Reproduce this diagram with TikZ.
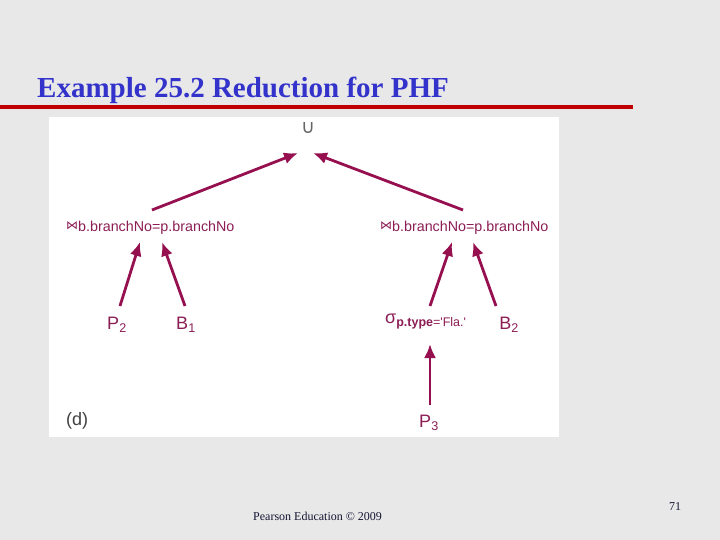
\documentclass[tikz,border=0pt]{standalone}
\usepackage{fontspec}
\setmainfont{Liberation Serif}
\newfontfamily\lsans{Liberation Sans}
\newfontfamily\dvs{DejaVu Sans}
\usetikzlibrary{arrows.meta}
\definecolor{bg}{RGB}{232,232,232}
\definecolor{ttl}{RGB}{51,51,204}
\definecolor{rul}{RGB}{192,0,0}
\definecolor{arr}{RGB}{150,16,80}
\definecolor{lbl}{RGB}{140,30,85}
\definecolor{ftr}{RGB}{20,20,50}
\tikzset{
  conn/.style={draw=arr, line width=2.8pt, -{Latex[length=14pt,width=12pt]}},
  lab/.style={font=\lsans\fontsize{14.3}{16}\selectfont, text=lbl, inner sep=1pt},
  big/.style={font=\lsans\fontsize{18}{20}\selectfont, text=lbl, inner sep=1pt},
}
\begin{document}
\begin{tikzpicture}[x=1pt,y=-1pt]
\fill[bg] (0,0) rectangle (720,540);
\useasboundingbox (0,0) rectangle (720,540);
% title
\node[anchor=base west, inner sep=0, text=ttl, font=\bfseries\fontsize{29}{32}\selectfont] (title) at (37,98) {Example 25.2 Reduction for PHF};
\fill[rul] (0,105.5) rectangle (633,109);
% panel
\fill[white] (49,117) rectangle (559,437);
% nodes
\node[lab, font=\dvs\fontsize{19}{20}\selectfont, text=black!60] (u) at (308,128) {∪};
\coordinate (uL) at (298,153);
\coordinate (uR) at (313,153);
\node[lab, anchor=west] (j1) at (65,228) {{\dvs\fontsize{12}{12}\selectfont\raisebox{2.5pt}{⋈}}b.branchNo=p.branchNo};
\node[lab, anchor=west] (j2) at (379,228) {{\dvs\fontsize{12}{12}\selectfont\raisebox{2.5pt}{⋈}}b.branchNo=p.branchNo};
\coordinate (j1t) at (152,210);
\coordinate (j2t) at (463,210);
\coordinate (j1L) at (140,242);
\coordinate (j1R) at (162,242);
\coordinate (j2L) at (452,242);
\coordinate (j2R) at (473,242);
\node[big] (p2) at (117,325) {P\textsubscript{2}};
\node[big] (b1) at (186,325) {B\textsubscript{1}};
\node[big, anchor=west] (sig) at (384,322) {σ\raisebox{-3pt}{\lsans\bfseries\fontsize{12.5}{13}\selectfont p.type\mdseries='Fla.'}};
\node[big] (b2) at (509,325) {B\textsubscript{2}};
\node[big] (p3) at (429,423) {P\textsubscript{3}};
\node[big, text=black!75, anchor=west] (d) at (65,421) {(d)};
\coordinate (p2t) at (120,306);
\coordinate (b1t) at (185,306);
\coordinate (sigt) at (430,306);
\coordinate (b2t) at (496,306);
\coordinate (sigb) at (430,344);
\coordinate (p3t) at (430,405);
% connectors
\draw[conn] (j1t) -- (uL);
\draw[conn] (j2t) -- (uR);
\draw[conn] (p2t) -- (j1L);
\draw[conn] (b1t) -- (j1R);
\draw[conn] (sigt) -- (j2L);
\draw[conn] (b2t) -- (j2R);
\draw[conn] (p3t) -- (sigb);
% footer
\node[anchor=base west, inner sep=0, text=ftr, font=\fontsize{12}{14}\selectfont] (foot) at (253,520) {Pearson Education © 2009};
\node[anchor=base west, inner sep=0, text=ftr, font=\fontsize{12}{14}\selectfont] (pg) at (669,510) {71};
\end{tikzpicture}
\end{document}
